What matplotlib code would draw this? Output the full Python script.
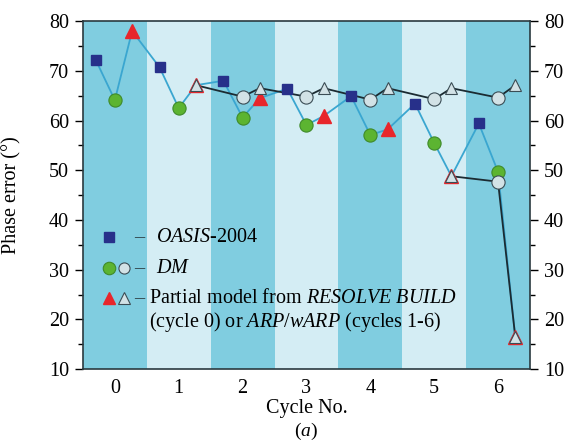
import numpy as np
import matplotlib.pyplot as plt
from matplotlib.ticker import MultipleLocator

plt.rcParams['font.family'] = ['Liberation Serif', 'DejaVu Serif']
plt.rcParams['mathtext.fontset'] = 'custom'
plt.rcParams['mathtext.rm'] = 'Liberation Serif'
plt.rcParams['mathtext.it'] = 'Liberation Serif:italic'
plt.rcParams['font.size'] = 14.5

# phase errors per refinement cycle
cycles = np.arange(0, 7)
oasis = [72.2, 70.7, 68.0, 66.4, 64.9, 63.4, 59.4]
dm_fill = [64.1, 62.5, 60.6, 59.1, 57.1, 55.5, 49.7]
part_fill = [78.0, 67.1, 64.5, 60.9, 58.2, 48.8, 16.5]
# open symbols (upper and lower chains)
dm_open_a = [np.nan, np.nan, 64.8, 64.8, 64.2, 64.3, 64.6]
part_open_a = [np.nan, 67.1, 66.5, 66.5, 66.5, 66.5, 67.1]
dm_open_b = [np.nan, np.nan, np.nan, np.nan, np.nan, np.nan, 47.7]
part_open_b = [np.nan, np.nan, np.nan, np.nan, np.nan, 48.8, 16.5]

off_sq, off_ci, off_tr = -0.3, 0.0, 0.27

c_dark = '#80cde0'
c_light = '#d4edf4'
c_line = '#3aa6d0'
c_black = '#1b2b32'
c_sq = '#27308a'
c_green = '#5cb431'
c_red = '#e8262b'
c_open = '#d2e2e6'

fig = plt.figure(figsize=(5.68, 4.48), dpi=100)
ax = fig.add_axes([0.146, 0.176, 0.787, 0.777])

for c in cycles:
    ax.axvspan(c - 0.5, c + 0.5, color=c_dark if c % 2 == 0 else c_light, lw=0, zorder=0)

# blue chain through filled symbols
bx, by = [], []
for c in cycles:
    bx += [c + off_sq, c + off_ci, c + off_tr]
    by += [oasis[c], dm_fill[c], part_fill[c]]
ax.plot(bx, by, color=c_line, lw=1.3, zorder=2)

# black chains through open symbols
for dmo, pto in [(dm_open_a, part_open_a), (dm_open_b, part_open_b)]:
    kx, ky = [], []
    for c in cycles:
        if not np.isnan(dmo[c]):
            kx.append(c + off_ci); ky.append(dmo[c])
        if not np.isnan(pto[c]):
            kx.append(c + off_tr); ky.append(pto[c])
    ax.plot(kx, ky, color=c_black, lw=1.3, zorder=3)

ax.plot(cycles + off_sq, oasis, 's', ms=7.5, color=c_sq, mec=c_sq, zorder=5)
ax.plot(cycles + off_ci, dm_fill, 'o', ms=9.5, color=c_green, mec='#3f8a2a', mew=0.8, zorder=5)
ax.plot(cycles + off_tr, part_fill, '^', ms=9.5, color=c_red, mec=c_red, zorder=5)
for dmo, pto in [(dm_open_a, part_open_a), (dm_open_b, part_open_b)]:
    ax.plot(cycles + off_ci, dmo, 'o', ms=9.5, color=c_open, mec='#3b4d55', mew=0.8, zorder=6)
    ax.plot(cycles + off_tr, pto, '^', ms=8.5, color=c_open, mec='#3b4d55', mew=0.8, zorder=6)

ax.set_xlim(-0.5, 6.5)
ax.set_ylim(10, 80)
ax.set_xticks(cycles)
ax.yaxis.set_major_locator(MultipleLocator(10))
ax.yaxis.set_minor_locator(MultipleLocator(5))
ax.tick_params(axis='x', length=0, pad=7)
ax.tick_params(axis='y', which='both', direction='out', left=True, right=True,
               labelleft=True, labelright=True, pad=4)
ax.tick_params(axis='y', which='major', length=6, width=1)
ax.tick_params(axis='y', which='minor', length=3.5, width=1)
for s in ax.spines.values():
    s.set_color('#2a3a40')
    s.set_linewidth(1.2)

ax.set_ylabel('Phase error (°)')
ax.yaxis.set_label_coords(-0.138, 0.5)
ax.set_xlabel('Cycle No.')
ax.xaxis.set_label_coords(0.5, -0.086)
fig.text(0.5 * (0.146 * 2 + 0.787), 1 - 431 / 448, r'($\mathit{a}$)', ha='center', va='center',
         fontsize=14)

# legend drawn by hand
tr = ax.transAxes
ax.plot([0.058], [0.379], 's', ms=7.5, color=c_sq, transform=tr, zorder=7)
ax.plot([0.058], [0.290], 'o', ms=9, color=c_green, mec='#3f8a2a', mew=0.8, transform=tr, zorder=7)
ax.plot([0.092], [0.290], 'o', ms=8, color=c_open, mec='#3b4d55', mew=0.8, transform=tr, zorder=7)
ax.plot([0.058], [0.204], '^', ms=8.5, color=c_red, transform=tr, zorder=7)
ax.plot([0.092], [0.204], '^', ms=8, color=c_open, mec='#3b4d55', mew=0.8, transform=tr, zorder=7)
for yy in [0.379, 0.290, 0.204]:
    ax.text(0.126, yy, '–', transform=tr, ha='center', va='center', color='#2a3a40')
ax.text(0.164, 0.379, r'$\mathit{OASIS}$-2004', transform=tr, va='center')
ax.text(0.164, 0.290, r'$\mathit{DM}$', transform=tr, va='center')
ax.text(0.148, 0.204, r'Partial model from $\mathit{RESOLVE\ BUILD}$', transform=tr, va='center')
ax.text(0.148, 0.135, r'(cycle 0) or $\mathit{ARP/wARP}$ (cycles 1-6)', transform=tr, va='center')

fig.savefig('out.png', dpi=100)
